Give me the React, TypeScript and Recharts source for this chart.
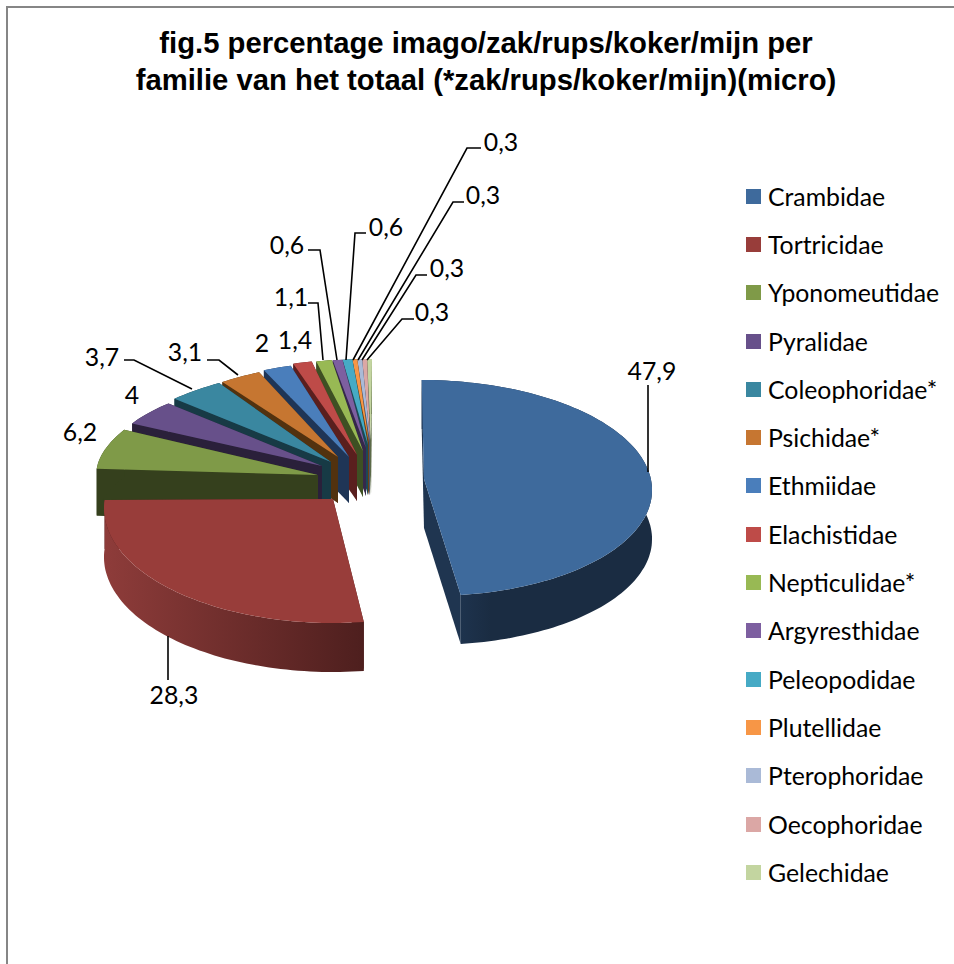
import React from "react";
import { PieChart, Pie, Legend } from "recharts";

const families = ["Crambidae","Tortricidae","Yponomeutidae","Pyralidae","Coleophoridae*","Psichidae*","Ethmiidae","Elachistidae","Nepticulidae*","Argyresthidae","Peleopodidae","Plutellidae","Pterophoridae","Oecophoridae","Gelechidae"];
const percentages = [47.9,28.3,6.2,4,3.7,3.1,2,1.4,1.1,0.6,0.6,0.3,0.3,0.3,0.3];
const topColors = ["#3E6A9C","#983D3A","#7F9A48","#67508A","#3A87A0","#C67631","#4A7EBB","#BE4B48","#98B954","#7D5FA0","#46AAC5","#F79646","#AABAD7","#DBA7A5","#C3D5A0"];
const wallColors = ["url(#wallBlue)","url(#wallRed)","#35401D","#2A203A","#173A45","#52320F","#1F3556","#5A1F1E","#3E5023","#35284A","#1C4855","#6E4010","#4A5570","#6A4645","#5C6A48"];

// 3D projection of each slice, relative to the pie centre: [ellipse dx, dy, rx, ry, apex dx, apex dy, depth, shear]
const projection = [
  [54,13,226,108,52,4,49,0.04],
  [-39,33,229,115,-39,24,49,0],
  [-4,1,272,104,-54,0,47,0],
  [-5,-9,262,96,-50,-9,37,0],
  [1,-11,262,100,-41,-13,41,0],
  [-21,-12,219,100,-34,-18,46,0],
  [-12,-14,229,100,-23,-18,46,0],
  [-13,-16,217,100,-15,-20,46,0],
  [-6,-16,228,100,-9,-24,46,0],
  [0,0,262,116,-6,-27,48,0],
  [0,0,262,116,-4,-30,50,0],
  [0,0,262,116,-3,-32,52,0],
  [0,0,262,116,-2,-34,54,0],
  [0,0,262,116,-2,-35,55,0],
  [0,0,262,116,-1,-35,55,0],
];
// label centres relative to the pie centre
const labelOffsets = [[280,-105],[-198,219],[-292,-44],[-240,-81],[-270,-119],[-187,-124],[-110,-133],[-77,-136],[-81,-179],[-85,-231],[14,-249],[129,-334],[111,-281],[75,-208],[60,-164]];
// leader lines relative to the pie centre
const leaders = [
  [[276,-3],[276,-90]],
  [[-204,161],[-204,205]],
  [],[],
  [[-180,-86],[-238,-115],[-248,-115]],
  [[-134,-100],[-153,-115],[-165,-115]],
  [],[],
  [[-49,-115],[-54,-172],[-64,-172]],
  [[-35,-115],[-52,-225],[-64,-225]],
  [[-26,-115],[-17,-242],[-6,-242]],
  [[-19,-115],[95,-327],[109,-327]],
  [[-14,-115],[81,-273],[92,-273]],
  [[-10,-115],[44,-200],[55,-200]],
  [[-5,-115],[30,-156],[42,-156]],
];

const tableData = families
  .map((name, i) => ({ name, value: percentages[i], fill: topColors[i], order: i }))
  .reverse();

const W = 954, H = 964, CX = 372, CY = 475;
const labelFont = "Lato, 'Open Sans', sans-serif";

function Slice3D(props: any) {
  const { cx, cy, startAngle, endAngle, payload } = props;
  const i: number = payload.order ?? props.order;
  const [dx, dy, rx, ry, ax, ay, depth, shear] = projection[i];
  const ex = cx + dx, ey = cy + dy, px = cx + ax, py = cy + ay;
  const steps = Math.max(2, Math.ceil(Math.abs(endAngle - startAngle) / 1.5));
  const arc: number[][] = [];
  for (let s = 0; s <= steps; s++) {
    const a = ((startAngle + ((endAngle - startAngle) * s) / steps) * Math.PI) / 180;
    const y = -ry * Math.sin(a);
    arc.push([ex + rx * Math.cos(a) + shear * y, ey + y]);
  }
  const str = (pts: number[][]) => pts.map((p) => `${p[0].toFixed(1)},${p[1].toFixed(1)}`).join(" ");
  const down = (p: number[]) => [p[0], p[1] + depth];
  const apex = [px, py];
  const first = arc[0], last = arc[arc.length - 1];
  const wall = wallColors[i];
  const solid = wall.startsWith("url") ? (i === 0 ? "#1F3550" : "#4E1F1E") : wall;
  return (
    <g>
      <polygon points={str([apex, first, down(first), down(apex)])} fill={solid} />
      <polygon points={str([apex, last, down(last), down(apex)])} fill={solid} />
      <polygon points={str([...arc, ...arc.slice().reverse().map(down)])} fill={wall} />
      <polygon points={str([apex, ...arc])} fill={topColors[i]} />
    </g>
  );
}

function SliceLabel(props: any) {
  const { cx, cy, payload } = props;
  const i: number = payload.order ?? props.order;
  const [tx, ty] = labelOffsets[i];
  const line = leaders[i];
  return (
    <g>
      {line.length > 0 && (
        <polyline
          points={line.map((p) => `${cx + p[0]},${cy + p[1]}`).join(" ")}
          fill="none"
          stroke="#000"
          strokeWidth={1.6}
        />
      )}
      <text
        x={cx + tx}
        y={cy + ty}
        textAnchor="middle"
        dominantBaseline="central"
        fontFamily={labelFont}
        fontSize={24.8}
        fill="#000"
      >
        {String(percentages[i]).replace(".", ",")}
      </text>
    </g>
  );
}

function LegendList(props: any) {
  const items = (props.payload ?? []).slice().sort((a: any, b: any) => families.indexOf(a.value) - families.indexOf(b.value));
  return (
    <div style={{ fontFamily: labelFont, fontSize: 24.8, color: "#000" }}>
      {items.map((it: any) => (
        <div key={it.value} style={{ height: 48.3, display: "flex", alignItems: "center", whiteSpace: "nowrap" }}>
          <span style={{ width: 15, height: 15, background: it.color, display: "inline-block", marginRight: 7 }} />
          <span>{it.value}</span>
        </div>
      ))}
    </div>
  );
}

export default function App() {
  return (
    <div style={{ position: "absolute", left: 0, top: 0, width: W, height: H, overflow: "hidden", background: "#fff" }}>
      <div style={{ position: "absolute", left: 6, top: 6, right: 0, bottom: 0, borderLeft: "2px solid #868686", borderTop: "2px solid #868686" }} />
      <div style={{ position: "absolute", left: 0, width: 972, top: 25, textAlign: "center", fontFamily: "'Liberation Sans', Arial, sans-serif", fontWeight: 700, fontSize: 29.25, lineHeight: "37px", color: "#000" }}>
        fig.5 percentage imago/zak/rups/koker/mijn per<br />
        familie van het totaal (*zak/rups/koker/mijn)(micro)
      </div>
      <div style={{ position: "absolute", left: 0, top: 0 }}>
        <PieChart width={W} height={H} margin={{ top: 0, right: 0, bottom: 0, left: 0 }}>
          <defs>
            <linearGradient id="wallBlue" x1="0" y1="0" x2="1" y2="0">
              <stop offset="0" stopColor="#233C5C" />
              <stop offset="0.3" stopColor="#1A2C42" />
              <stop offset="1" stopColor="#1A2C42" />
            </linearGradient>
            <linearGradient id="wallRed" x1="0" y1="0" x2="1" y2="0">
              <stop offset="0" stopColor="#8E3C3A" />
              <stop offset="1" stopColor="#4E1F1E" />
            </linearGradient>
          </defs>
          <Pie
            data={tableData}
            dataKey="value"
            nameKey="name"
            cx={CX}
            cy={CY}
            outerRadius={262}
            startAngle={90}
            endAngle={450}
            stroke="none"
            isAnimationActive={false}
            shape={Slice3D}
            label={SliceLabel}
            labelLine={false}
          />
          <Legend
            layout="vertical"
            align="center"
            verticalAlign="middle"
            wrapperStyle={{ left: 746, top: 172, width: 208 }}
            content={LegendList}
          />
        </PieChart>
      </div>
    </div>
  );
}
